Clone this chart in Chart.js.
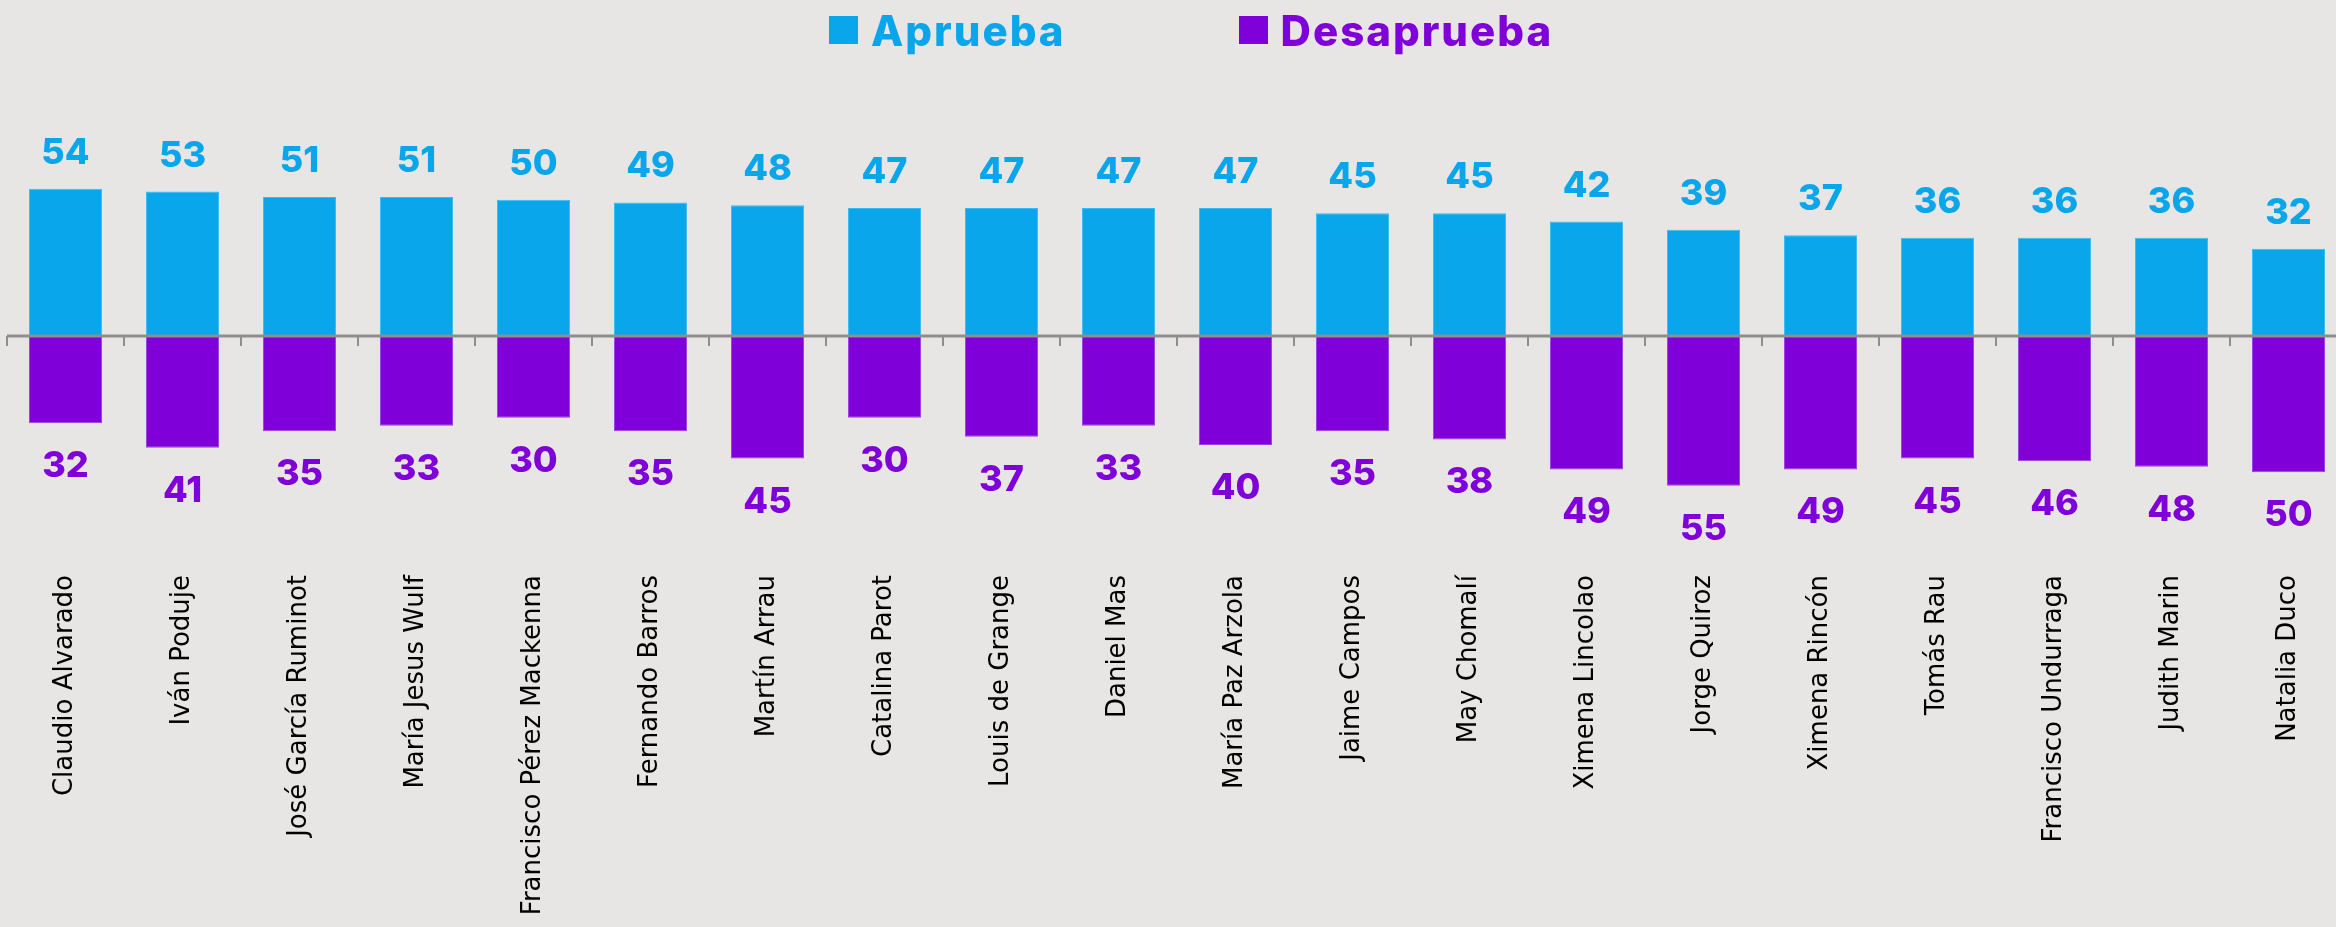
<!DOCTYPE html>
<html>
<head>
<meta charset="utf-8">
<script src="https://cdn.jsdelivr.net/npm/chart.js@4/dist/chart.umd.min.js"></script>
<style>
	html, body { margin: 0; padding: 0; background: #e8e6e4; overflow: hidden; }
	#wrap { position: relative; width: 2350px; height: 927px; }
	#legend { position: absolute; left: 829px; top: 0; height: 60px; display: flex; align-items: center;
		font-family: "Inter", "Lato", sans-serif; font-weight: 800; font-size: 42px; letter-spacing: 2px; }
	#legend .item { display: flex; align-items: center; margin-right: 173px; }
	#legend .box { width: 29px; height: 28px; margin-right: 13px; }
</style>
</head>
<body>
<div id="wrap">
	<div id="legend"></div>
	<canvas id="myChart"></canvas>
</div>
<script>
// data
const names = ['Claudio Alvarado', 'Iván Poduje', 'José García Ruminot', 'María Jesus Wulf', 'Francisco Pérez Mackenna',
	'Fernando Barros', 'Martín Arrau', 'Catalina Parot', 'Louis de Grange', 'Daniel Mas', 'María Paz Arzola',
	'Jaime Campos', 'May Chomalí', 'Ximena Lincolao', 'Jorge Quiroz', 'Ximena Rincón', 'Tomás Rau',
	'Francisco Undurraga', 'Judith Marin', 'Natalia Duco'];
const aprueba = [54, 53, 51, 51, 50, 49, 48, 47, 47, 47, 47, 45, 45, 42, 39, 37, 36, 36, 36, 32];
const desaprueba = [32, 41, 35, 33, 30, 35, 45, 30, 37, 33, 40, 35, 38, 49, 55, 49, 45, 46, 48, 50];
const seriesNames = ['Aprueba', 'Desaprueba'];

const blue = '#0aa6eb';
const purple = '#7f00d9';
const axisGray = '#8e8e8e';

// html legend
seriesNames.forEach((name, i) => {
	let color = i === 0 ? blue : purple;
	let item = document.createElement('div');
	item.className = 'item';
	item.innerHTML = `<span class="box" style="background:${color}"></span><span style="color:${color}">${name}</span>`;
	document.getElementById('legend').appendChild(item);
});

const zeroLine = {
	id: 'zeroLine',
	afterDatasetsDraw(chart) {
		const { ctx, chartArea, scales } = chart;
		const y0 = scales.y.getPixelForValue(0);
		const step = scales.x.getPixelForValue(1) - scales.x.getPixelForValue(0);
		ctx.save();
		ctx.strokeStyle = axisGray;
		ctx.lineWidth = 3;
		ctx.beginPath();
		ctx.moveTo(chartArea.left, y0);
		ctx.lineTo(chartArea.right, y0);
		ctx.stroke();
		ctx.lineWidth = 2;
		for (let i = 0; i <= names.length; i++) {
			let x = scales.x.getPixelForValue(i) - step / 2;
			ctx.beginPath();
			ctx.moveTo(x, y0);
			ctx.lineTo(x, y0 + 10);
			ctx.stroke();
		}
		ctx.restore();
	}
};

const valueLabels = {
	id: 'valueLabels',
	afterDatasetsDraw(chart) {
		const ctx = chart.ctx;
		ctx.save();
		ctx.font = '800 36px Inter, Lato, sans-serif';
		ctx.textAlign = 'center';
		ctx.textBaseline = 'alphabetic';
		chart.getDatasetMeta(0).data.forEach((bar, i) => {
			ctx.fillStyle = blue;
			ctx.fillText(aprueba[i], bar.x, bar.y - 25);
		});
		chart.getDatasetMeta(1).data.forEach((bar, i) => {
			ctx.fillStyle = purple;
			ctx.fillText(desaprueba[i], bar.x, bar.y + 54);
		});
		ctx.restore();
	}
};

let myChart = new Chart(document.getElementById('myChart'), {
	type: 'bar',
	data: {
		labels: names,
		datasets: [{
			label: seriesNames[0],
			data: aprueba,
			backgroundColor: blue,
			borderColor: '#3bbaf0',
			borderWidth: 1
		}, {
			label: seriesNames[1],
			data: desaprueba.map(v => -v),
			backgroundColor: purple,
			borderColor: '#9c3fe2',
			borderWidth: 1
		}]
	},
	options: {
		responsive: true,
		maintainAspectRatio: false,
		animation: false,
		layout: { padding: { left: 7, right: 3, top: 100, bottom: 0 } },
		datasets: { bar: { categoryPercentage: 1, barPercentage: 0.625 } },
		plugins: {
			legend: { display: false },
			tooltip: { enabled: false }
		},
		scales: {
			x: {
				stacked: true,
				grid: { display: false, drawTicks: false },
				border: { display: false },
				ticks: {
					autoSkip: false,
					minRotation: 90,
					maxRotation: 90,
					padding: 8,
					color: '#000',
					font: { family: 'DejaVu Sans', size: 26 }
				},
				afterFit(scale) { scale.height = 360; }
			},
			y: {
				stacked: true,
				display: false,
				min: -84.8,
				max: 86.6
			}
		}
	},
	plugins: [zeroLine, valueLabels]
});
</script>
</body>
</html>
